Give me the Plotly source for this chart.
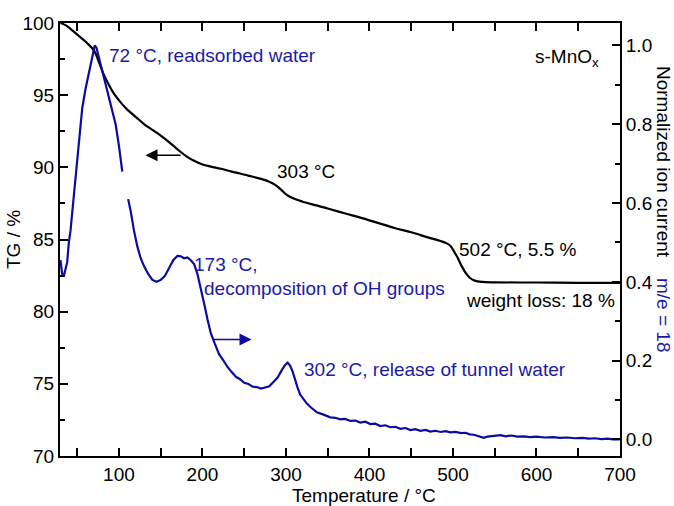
import plotly.graph_objects as go

# TG curve (temperature in °C, mass in %)
tg_temp = [30, 36, 42, 48, 54, 62, 70, 76, 82, 88, 94, 102, 110, 120, 130, 140, 150, 160, 170,
           180, 190, 200, 210, 222, 235, 245, 258, 270, 280, 288, 295, 302, 310, 320, 335, 350,
           370, 390, 410, 430, 450, 470, 485, 492, 497, 501, 505, 510, 515, 520, 526, 535, 550,
           600, 650, 700]
tg_mass = [100.0, 99.85, 99.6, 99.3, 99.0, 98.6, 98.1, 97.3, 96.4, 95.7, 95.1, 94.5, 94.0, 93.5,
           93.0, 92.6, 92.2, 91.75, 91.25, 90.8, 90.45, 90.2, 90.05, 89.9, 89.7, 89.57, 89.38,
           89.2, 89.0, 88.75, 88.4, 88.05, 87.82, 87.62, 87.38, 87.15, 86.82, 86.5, 86.15, 85.8,
           85.5, 85.15, 84.9, 84.75, 84.55, 84.2, 83.8, 83.2, 82.7, 82.35, 82.15, 82.06, 82.03,
           82.02, 82.0, 82.0]

# MS signal m/e = 18 (normalized ion current); None marks the gap in the record
ms_temp = [30, 32, 34, 36, 38, 40, 42, 44, 48, 52, 56, 60, 64, 68, 71, 73, 76, 80, 84, 88, 92, 96,
           100, 104, 107, 111, 114, 118, 122, 126, 130, 135, 140, 145, 150, 155, 160, 165, 170, 174,
           178, 182, 186, 190, 194, 198, 202, 206, 210, 215, 220, 225, 230, 235, 240, 245, 250,
           255, 260, 265, 270, 275, 280, 285, 290, 295, 299, 302, 305, 308, 311, 314, 317, 321,
           325, 330, 337, 345, 353, 359, 365, 371, 377, 383, 389, 395, 401, 407, 413, 419, 425,
           431, 437, 443, 449, 455, 461, 467, 473, 479, 485, 491, 497, 503, 510, 515, 520, 525,
           530, 534, 537, 541, 545, 551, 557, 563, 570, 577, 585, 592, 600, 610, 620, 628, 637,
           646, 655, 663, 670, 678, 685, 692, 700]
ms_signal = [0.455, 0.42, 0.415, 0.43, 0.45, 0.50, 0.53, 0.575, 0.66, 0.76, 0.84, 0.89, 0.93,
             0.975, 1.0, 0.995, 0.97, 0.935, 0.905, 0.87, 0.84, 0.80, 0.745, 0.68, None, 0.61,
             0.58, 0.53, 0.49, 0.46, 0.44, 0.42, 0.405, 0.40, 0.405, 0.415, 0.435, 0.455, 0.466,
             0.465, 0.46, 0.462, 0.455, 0.445, 0.42, 0.385, 0.345, 0.305, 0.27, 0.242, 0.216,
             0.201, 0.184, 0.171, 0.159, 0.153, 0.144, 0.141, 0.134, 0.133, 0.129, 0.132, 0.135,
             0.146, 0.157, 0.176, 0.189, 0.195, 0.187, 0.172, 0.150, 0.131, 0.114, 0.101, 0.091,
             0.081, 0.069, 0.063, 0.056, 0.055, 0.051, 0.052, 0.047, 0.048, 0.043, 0.045, 0.039,
             0.040, 0.034, 0.036, 0.031, 0.032, 0.027, 0.029, 0.024, 0.026, 0.022, 0.024, 0.020,
             0.022, 0.019, 0.021, 0.018, 0.019, 0.016, 0.017, 0.013, 0.012, 0.008, 0.006, 0.004,
             0.007, 0.008, 0.010, 0.011, 0.008, 0.010, 0.007, 0.008, 0.006, 0.007, 0.005, 0.006,
             0.004, 0.005, 0.003, 0.004, 0.002, 0.003, 0.001, 0.002, 0.000, 0.000]

x_range = [29.4, 700]
tg_range = [70, 100]
ms_range = [-0.042, 1.057]

BLUE = "#0B0BA3"
BLUE_TXT = "#1A1AA8"
FONT = "Liberation Sans, Arial, Helvetica, sans-serif"
FS = 19

fig = go.Figure()
fig.add_trace(go.Scatter(x=tg_temp, y=tg_mass, mode="lines", line=dict(color="black", width=2.2),
                         line_shape="spline", yaxis="y", showlegend=False, hoverinfo="skip"))
fig.add_trace(go.Scatter(x=ms_temp, y=ms_signal, mode="lines", line=dict(color=BLUE, width=2.2),
                         yaxis="y2", showlegend=False, connectgaps=False, hoverinfo="skip"))

axis_common = dict(showgrid=False, zeroline=False, linecolor="black", linewidth=2,
                   ticks="inside", ticklen=8, tickwidth=1.8, tickcolor="black",
                   tickfont=dict(family=FONT, size=FS, color="black"))

fig.update_layout(
    width=674, height=506,
    margin=dict(l=60, r=54, t=23, b=50),
    paper_bgcolor="white", plot_bgcolor="white",
    font=dict(family=FONT, size=FS, color="black"),
    xaxis=dict(range=x_range, dtick=100, tick0=0, mirror="allticks", showline=True,
               minor=dict(dtick=50, ticks="inside", ticklen=5, tickwidth=1.8, tickcolor="black"),
               **axis_common),
    yaxis=dict(range=tg_range, dtick=5, tick0=0, showline=True,
               minor=dict(dtick=2.5, ticks="inside", ticklen=5, tickwidth=1.8, tickcolor="black"),
               **axis_common),
    yaxis2=dict(range=ms_range, dtick=0.2, tick0=0, overlaying="y", side="right", showline=True,
                tickformat=".1f",
                minor=dict(dtick=0.1, ticks="inside", ticklen=5, tickwidth=1.8, tickcolor="black"),
                **axis_common),
)

def txt(x, y, s, color="black", xanchor="left", yref="y", **kw):
    fig.add_annotation(x=x, y=y, xref="x", yref=yref, text=s, showarrow=False,
                       xanchor=xanchor, yanchor="middle",
                       font=dict(family=FONT, size=FS, color=color), **kw)

txt(85.5, 97.76, "72 °C, readsorbed water", BLUE_TXT)
txt(596, 97.6, "s-MnO<sub>x</sub>")
txt(323.4, 89.68, "303 °C", xanchor="center")
txt(505, 84.33, "502 °C, 5.5 %")
txt(513.5, 80.8, "weight loss: 18 %")
txt(188, 83.27, "173 °C,", BLUE_TXT)
txt(200, 81.6, "decomposition of OH groups", BLUE_TXT)
txt(318.6, 76.0, "302 °C, release of tunnel water", BLUE_TXT)

# Axis titles placed relative to the plot area (x 60..620 px, y 23..456 px)
def ptxt2(px, py, s, color="black", angle=0):
    fig.add_annotation(x=(px - 60) / 560, y=(456 - py) / 433, xref="paper", yref="paper",
                       text=s, showarrow=False, textangle=angle, xanchor="center",
                       yanchor="middle", font=dict(family=FONT, size=FS, color=color))

ptxt2(364, 495, "Temperature / °C")
ptxt2(14, 240, "TG / %", angle=-90)
ptxt2(664, 162, "Normalized ion current", angle=90)
ptxt2(664, 315, "m/e = 18", color=BLUE_TXT, angle=90)

# Arrows
fig.add_annotation(x=131.8, y=90.84, ax=175.7, ay=90.84, xref="x", yref="y", axref="x", ayref="y",
                   showarrow=True, arrowhead=2, arrowsize=1.6, arrowwidth=1.5, arrowcolor="black",
                   text="", standoff=0, startstandoff=0)
fig.add_annotation(x=258.7, y=0.254, ax=210.8, ay=0.254, xref="x", yref="y2", axref="x", ayref="y2",
                   showarrow=True, arrowhead=2, arrowsize=1.6, arrowwidth=1.5, arrowcolor=BLUE,
                   text="", standoff=0, startstandoff=0)

fig.write_html("out.html")
